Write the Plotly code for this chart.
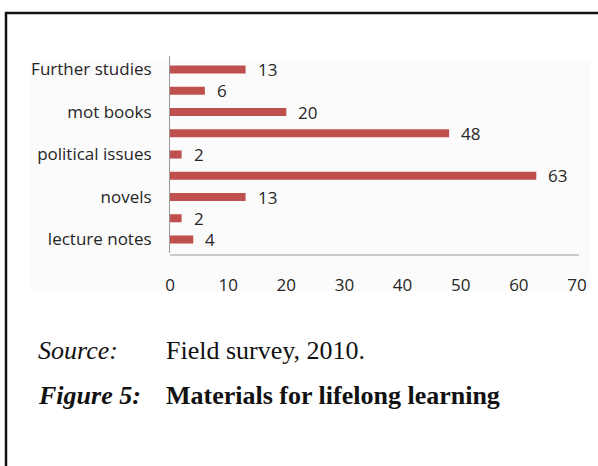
import plotly.graph_objects as go

# Survey responses: materials used for lifelong learning (bottom to top)
categories = ["lecture notes", "cat2", "novels", "cat4", "political issues",
              "cat6", "mot books", "cat8", "Further studies"]
values = [4, 2, 13, 63, 2, 48, 20, 6, 13]
# only every other category is labelled on the axis
tick_text = ["lecture notes", "", "novels", "", "political issues",
             "", "mot books", "", "Further studies"]
x_ticks = [0, 10, 20, 30, 40, 50, 60, 70]

W, H = 598, 466
L, R, T, B = 170, 21, 56, 213
pw, ph = W - L - R, H - T - B

LABEL_FONT = dict(family="Open Sans, sans-serif", size=17, color="#262626")


def px(x):
    return (x - L) / pw


def py(y):
    return (H - B - y) / ph


fig = go.Figure(go.Bar(
    x=values,
    y=categories,
    orientation="h",
    width=0.38,
    marker=dict(color="#c0504d", line=dict(width=0)),
    hoverinfo="skip",
))

shapes = [
    # chart area background
    dict(type="rect", xref="paper", yref="paper", layer="below",
         x0=px(30), x1=px(590), y0=py(291), y1=py(60),
         fillcolor="#fbfbfb", line=dict(width=0)),
    # frame: top and left rules
    dict(type="line", xref="paper", yref="paper",
         x0=px(5), x1=px(600), y0=py(13), y1=py(13),
         line=dict(color="#111111", width=2.5)),
    dict(type="line", xref="paper", yref="paper",
         x0=px(6), x1=px(6), y0=py(12), y1=py(470),
         line=dict(color="#111111", width=2.5)),
    # x axis baseline
    dict(type="line", xref="paper", yref="paper",
         x0=0, x1=px(579), y0=py(255), y1=py(255),
         line=dict(color="#9a9a9a", width=1)),
]

# value labels just right of each bar end
annotations = [
    dict(text=str(v), x=v, y=c, xref="x", yref="y", xanchor="left",
         yanchor="middle", xshift=10, showarrow=False, font=LABEL_FONT)
    for c, v in zip(categories, values)
]

CAP = dict(family="Liberation Serif", size=26, color="#111111")
annotations += [
    dict(text="<i>Source:</i>", x=px(36), y=py(350), xref="paper", yref="paper",
         xanchor="left", yanchor="middle", showarrow=False, font=CAP),
    dict(text="Field survey, 2010.", x=px(164), y=py(350), xref="paper", yref="paper",
         xanchor="left", yanchor="middle", showarrow=False, font=CAP),
    dict(text="<b><i>Figure 5:</i></b>", x=px(36), y=py(396), xref="paper", yref="paper",
         xanchor="left", yanchor="middle", showarrow=False, font=CAP),
    dict(text="<b>Materials for lifelong learning</b>", x=px(164), y=py(396),
         xref="paper", yref="paper", xanchor="left", yanchor="middle", showarrow=False,
         font=CAP),
]

fig.update_layout(
    width=W, height=H,
    margin=dict(l=L, r=R, t=T, b=B, pad=0),
    paper_bgcolor="white",
    plot_bgcolor="rgba(0,0,0,0)",
    showlegend=False,
    shapes=shapes,
    annotations=annotations,
    xaxis=dict(
        range=[0, 70], tickvals=x_ticks, ticktext=[str(v) for v in x_ticks],
        showgrid=False, zeroline=False, showline=False, ticks="",
        ticklabelstandoff=20,
        tickfont=LABEL_FONT,
        fixedrange=True,
    ),
    yaxis=dict(
        categoryorder="array", categoryarray=categories,
        tickvals=categories, ticktext=tick_text,
        showgrid=False, zeroline=False, showline=True,
        linecolor="#9a9a9a", linewidth=1, ticks="",
        ticklabelstandoff=14,
        tickfont=LABEL_FONT,
        fixedrange=True,
    ),
)

fig.write_html("out.html", config={"displayModeBar": False})
